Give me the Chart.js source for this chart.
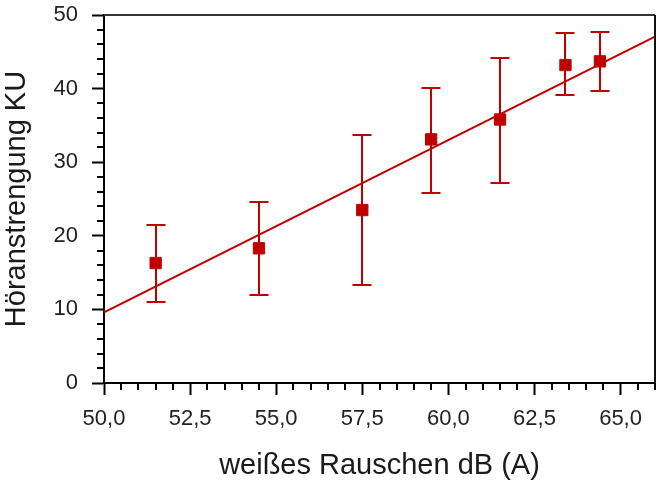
<!DOCTYPE html>
<html>
<head>
<meta charset="utf-8">
<script src="https://cdn.jsdelivr.net/npm/chart.js@4/dist/chart.umd.min.js"></script>
<style>
  html, body { margin: 0; padding: 0; background: #fff; }
  #wrap { width: 656px; height: 481px; }
</style>
</head>
<body>
<div id="wrap"><canvas id="c" width="656" height="481"></canvas></div>
<script>
// Noise level (dB(A)) and listening effort (KU): mean with lower/upper error limits
const noiseLevel = [51.5, 54.5, 57.5, 59.5, 61.5, 63.4, 64.4];
const effortMean = [16.3, 18.3, 23.5, 33.1, 35.8, 43.2, 43.7];
const effortLow  = [11.0, 11.9, 13.35, 25.75, 27.2, 39.1, 39.7];
const effortHigh = [21.4, 24.6, 33.65, 40.05, 44.2, 47.6, 47.7];

// Linear fit, evaluated at both ends of the x range
const fitX = [50, 66];
const fitY = [9.6, 47.05];

// Labelled tick positions
const xTicks = [50, 52.5, 55, 57.5, 60, 62.5, 65];
const yTicks = [0, 10, 20, 30, 40, 50];

const xLabel = 'weißes Rauschen dB (A)';
const yLabel = 'Höranstrengung KU';

const RED = '#c00000';
const AXIS = '#000';

const points = noiseLevel.map((x, i) => ({ x: x, y: effortMean[i] }));
const fitLine = fitX.map((x, i) => ({ x: x, y: fitY[i] }));

// Error bars with caps, drawn beneath the markers
const errorBars = {
  id: 'errorBars',
  beforeDatasetsDraw(chart) {
    const { ctx, scales: { x, y } } = chart;
    ctx.save();
    ctx.strokeStyle = RED;
    ctx.lineWidth = 2;
    const cap = 9.5;
    noiseLevel.forEach((v, i) => {
      const px = Math.round(x.getPixelForValue(v));
      const top = Math.round(y.getPixelForValue(effortHigh[i]));
      const bot = Math.round(y.getPixelForValue(effortLow[i]));
      ctx.beginPath();
      ctx.moveTo(px, top); ctx.lineTo(px, bot);
      ctx.moveTo(px - cap, top); ctx.lineTo(px + cap, top);
      ctx.moveTo(px - cap, bot); ctx.lineTo(px + cap, bot);
      ctx.stroke();
    });
    ctx.restore();
  }
};

// Frame on top/right plus minor tick marks on both axes
const frameAndMinor = {
  id: 'frameAndMinor',
  afterDraw(chart) {
    const { ctx, chartArea: a, scales: { x, y } } = chart;
    ctx.save();
    ctx.strokeStyle = '#333';
    ctx.lineWidth = 2;
    ctx.beginPath();
    ctx.moveTo(a.left, a.top); ctx.lineTo(a.right, a.top);
    ctx.stroke();
    ctx.strokeStyle = '#111';
    ctx.beginPath();
    ctx.moveTo(a.right, a.top); ctx.lineTo(a.right, a.bottom);
    ctx.stroke();

    ctx.strokeStyle = AXIS;
    ctx.lineWidth = 2;
    ctx.beginPath();
    for (let k = 0; k <= 32; k++) {
      if (k % 5 === 0) continue;
      const px = Math.round(x.getPixelForValue(50 + k * 0.5));
      ctx.moveTo(px, a.bottom); ctx.lineTo(px, a.bottom + 7);
    }
    for (let k = 0; k <= 25; k++) {
      if (k % 5 === 0) continue;
      const py = Math.round(y.getPixelForValue(k * 2));
      ctx.moveTo(a.left, py); ctx.lineTo(a.left - 7, py);
    }
    ctx.stroke();
    ctx.restore();
  }
};

const fontFamily = '"Liberation Sans", Arial, sans-serif';

new Chart(document.getElementById('c'), {
  type: 'scatter',
  data: {
    datasets: [
      {
        type: 'line',
        data: fitLine,
        borderColor: RED,
        borderWidth: 2,
        pointRadius: 0,
        fill: false,
        order: 2
      },
      {
        type: 'scatter',
        data: points,
        pointStyle: 'rect',
        pointRadius: 8,
        pointBorderWidth: 1,
        backgroundColor: RED,
        borderColor: RED,
        order: 1
      }
    ]
  },
  options: {
    responsive: false,
    animation: false,
    layout: { autoPadding: false, padding: { top: 15, right: 1, left: 0, bottom: 0 } },
    plugins: { legend: { display: false }, tooltip: { enabled: false } },
    scales: {
      x: {
        type: 'linear',
        min: 50,
        max: 66,
        afterBuildTicks(scale) {
          scale.ticks = xTicks.map(v => ({ value: v }));
        },
        afterFit(scale) {
          scale.height = 98;
          scale.paddingLeft = 0;
          scale.paddingRight = 0;
        },
        ticks: {
          padding: 11,
          color: '#222',
          font: { family: fontFamily, size: 22 },
          maxRotation: 0,
          autoSkip: false,
          callback: v => Number(v).toFixed(1).replace('.', ',')
        },
        grid: {
          drawOnChartArea: false,
          drawTicks: true,
          tickLength: 12,
          tickWidth: 2,
          tickColor: AXIS
        },
        border: { display: true, color: AXIS, width: 2 },
        title: {
          display: true,
          text: xLabel,
          color: '#1a1a1a',
          font: { family: fontFamily, size: 29, lineHeight: 1.05 },
          padding: { top: 0, bottom: 0 }
        }
      },
      y: {
        type: 'linear',
        min: 0,
        max: 50,
        afterBuildTicks(scale) {
          scale.ticks = yTicks.map(v => ({ value: v }));
        },
        afterFit(scale) {
          scale.width = 104;
          scale.paddingTop = 0;
          scale.paddingBottom = 0;
        },
        ticks: {
          padding: 14,
          color: '#222',
          font: { family: fontFamily, size: 22 }
        },
        grid: {
          drawOnChartArea: false,
          drawTicks: true,
          tickLength: 12,
          tickWidth: 2,
          tickColor: AXIS
        },
        border: { display: true, color: AXIS, width: 2 },
        title: {
          display: true,
          text: yLabel,
          color: '#1a1a1a',
          font: { family: fontFamily, size: 29, lineHeight: 1.2 },
          padding: { top: 0, bottom: 0 }
        }
      }
    }
  },
  plugins: [errorBars, frameAndMinor]
});
</script>
</body>
</html>
